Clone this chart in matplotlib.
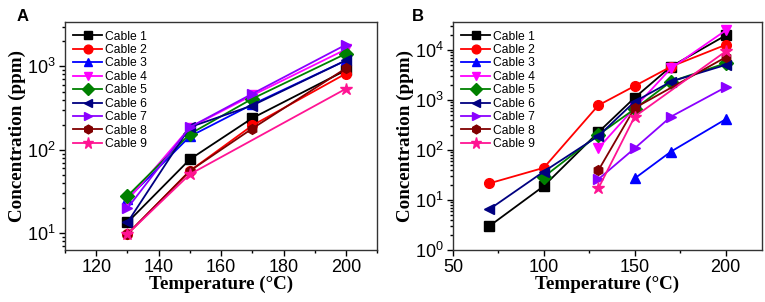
#!/usr/bin/python3
# Gas concentration vs temperature for nine cables, two panels

import numpy as np
import matplotlib
matplotlib.use('Agg')
import matplotlib.pyplot as plt
from matplotlib.ticker import LogLocator, NullFormatter, MultipleLocator

# Series names and styles
cables = ['Cable 1', 'Cable 2', 'Cable 3', 'Cable 4', 'Cable 5',
          'Cable 6', 'Cable 7', 'Cable 8', 'Cable 9']
colors = ['#000000', '#ff0000', '#0000ff', '#ff00ff', '#008000',
          '#000080', '#8b00ff', '#800000', '#ff1493']
markers = ['s', 'o', '^', 'v', 'D', '<', '>', 'h', '*']

# Panel A data (temperature, ppm)
a_temp = [
    [130, 150, 170, 200],
    [130, 150, 170, 200],
    [130, 150, 170, 200],
    [130, 150, 170, 200],
    [130, 150, 170, 200],
    [130, 150, 170, 200],
    [130, 150, 170, 200],
    [130, 150, 170, 200],
    [130, 150, 200],
]
a_conc = [
    [13.5, 77, 240, 900],
    [9.8, 56, 196, 820],
    [26, 145, 350, 1180],
    [25, 185, 450, 1600],
    [28, 155, 410, 1420],
    [13.5, 187, 340, 1180],
    [20, 187, 470, 1820],
    [9.8, 56, 180, 950],
    [9.8, 51, 540],
]

# Panel B data (temperature, ppm)
b_temp = [
    [70, 100, 130, 150, 170, 200],
    [70, 100, 130, 150, 170, 200],
    [150, 170, 200],
    [130, 150, 170, 200],
    [100, 130, 150, 170, 200],
    [70, 100, 130, 150, 170, 200],
    [130, 150, 170, 200],
    [130, 150, 200],
    [130, 150, 200],
]
b_conc = [
    [3, 19, 226, 1110, 4640, 19400],
    [21.5, 44, 780, 1900, 4640, 12600],
    [27, 93, 410],
    [108, 700, 4300, 24400],
    [29, 200, 660, 2330, 5400],
    [6.5, 37, 190, 925, 2330, 5000],
    [26, 108, 464, 1790],
    [39, 690, 7100],
    [17, 464, 9300],
]

fig = plt.figure(figsize=(7.65, 3.02), dpi=100)

label_font = {'family': 'Liberation Serif', 'weight': 'bold', 'size': 13.7}
tick_font = 'Liberation Sans'


def draw_panel(ax, temps, concs, xlim, ylim, xmajor, xminor, letter, lx):
    for i in range(len(cables)):
        ax.plot(temps[i], concs[i], color=colors[i], marker=markers[i],
                markersize=7 if markers[i] != '*' else 9, lw=1.3,
                label=cables[i])
    ax.set_yscale('log')
    ax.set_xlim(*xlim)
    ax.set_ylim(*ylim)
    ax.xaxis.set_major_locator(MultipleLocator(xmajor))
    ax.xaxis.set_minor_locator(MultipleLocator(xminor))
    ax.yaxis.set_major_locator(LogLocator(base=10, numticks=10))
    ax.yaxis.set_minor_locator(LogLocator(base=10, subs=np.arange(2, 10), numticks=10))
    ax.yaxis.set_minor_formatter(NullFormatter())
    ax.tick_params(which='both', direction='out', top=False, right=False,
                   labelsize=13, width=1)
    ax.tick_params(which='major', length=4, pad=2.5)
    ax.tick_params(which='minor', length=2.5)
    for lab in ax.get_xticklabels() + ax.get_yticklabels():
        lab.set_fontfamily(tick_font)
    for sp in ax.spines.values():
        sp.set_color('#333333')
        sp.set_linewidth(1)
    ax.set_xlabel('Temperature (°C)', fontdict=label_font, labelpad=0)
    ax.set_ylabel('Concentration (ppm)', fontdict=label_font, labelpad=1)
    ax.legend(loc='upper left', frameon=False,
              prop={'family': 'Liberation Sans', 'size': 8.7},
              handlelength=2.4, labelspacing=0.12, borderaxespad=0.3,
              handletextpad=0.2, markerscale=0.9)
    ax.text(lx, 0.99, letter, transform=ax.transAxes, fontsize=12,
            fontweight='bold', family='Liberation Sans', ha='left', va='bottom')


axA = fig.add_axes([0.085, 0.172, 0.408, 0.755])
draw_panel(axA, a_temp, a_conc, (110, 210), (6.3, 3400), 20, 10, 'A', -0.155)

axB = fig.add_axes([0.592, 0.172, 0.404, 0.755])
draw_panel(axB, b_temp, b_conc, (50, 220), (1, 36000), 50, 25, 'B', -0.133)

fig.savefig('out.png', dpi=100)
